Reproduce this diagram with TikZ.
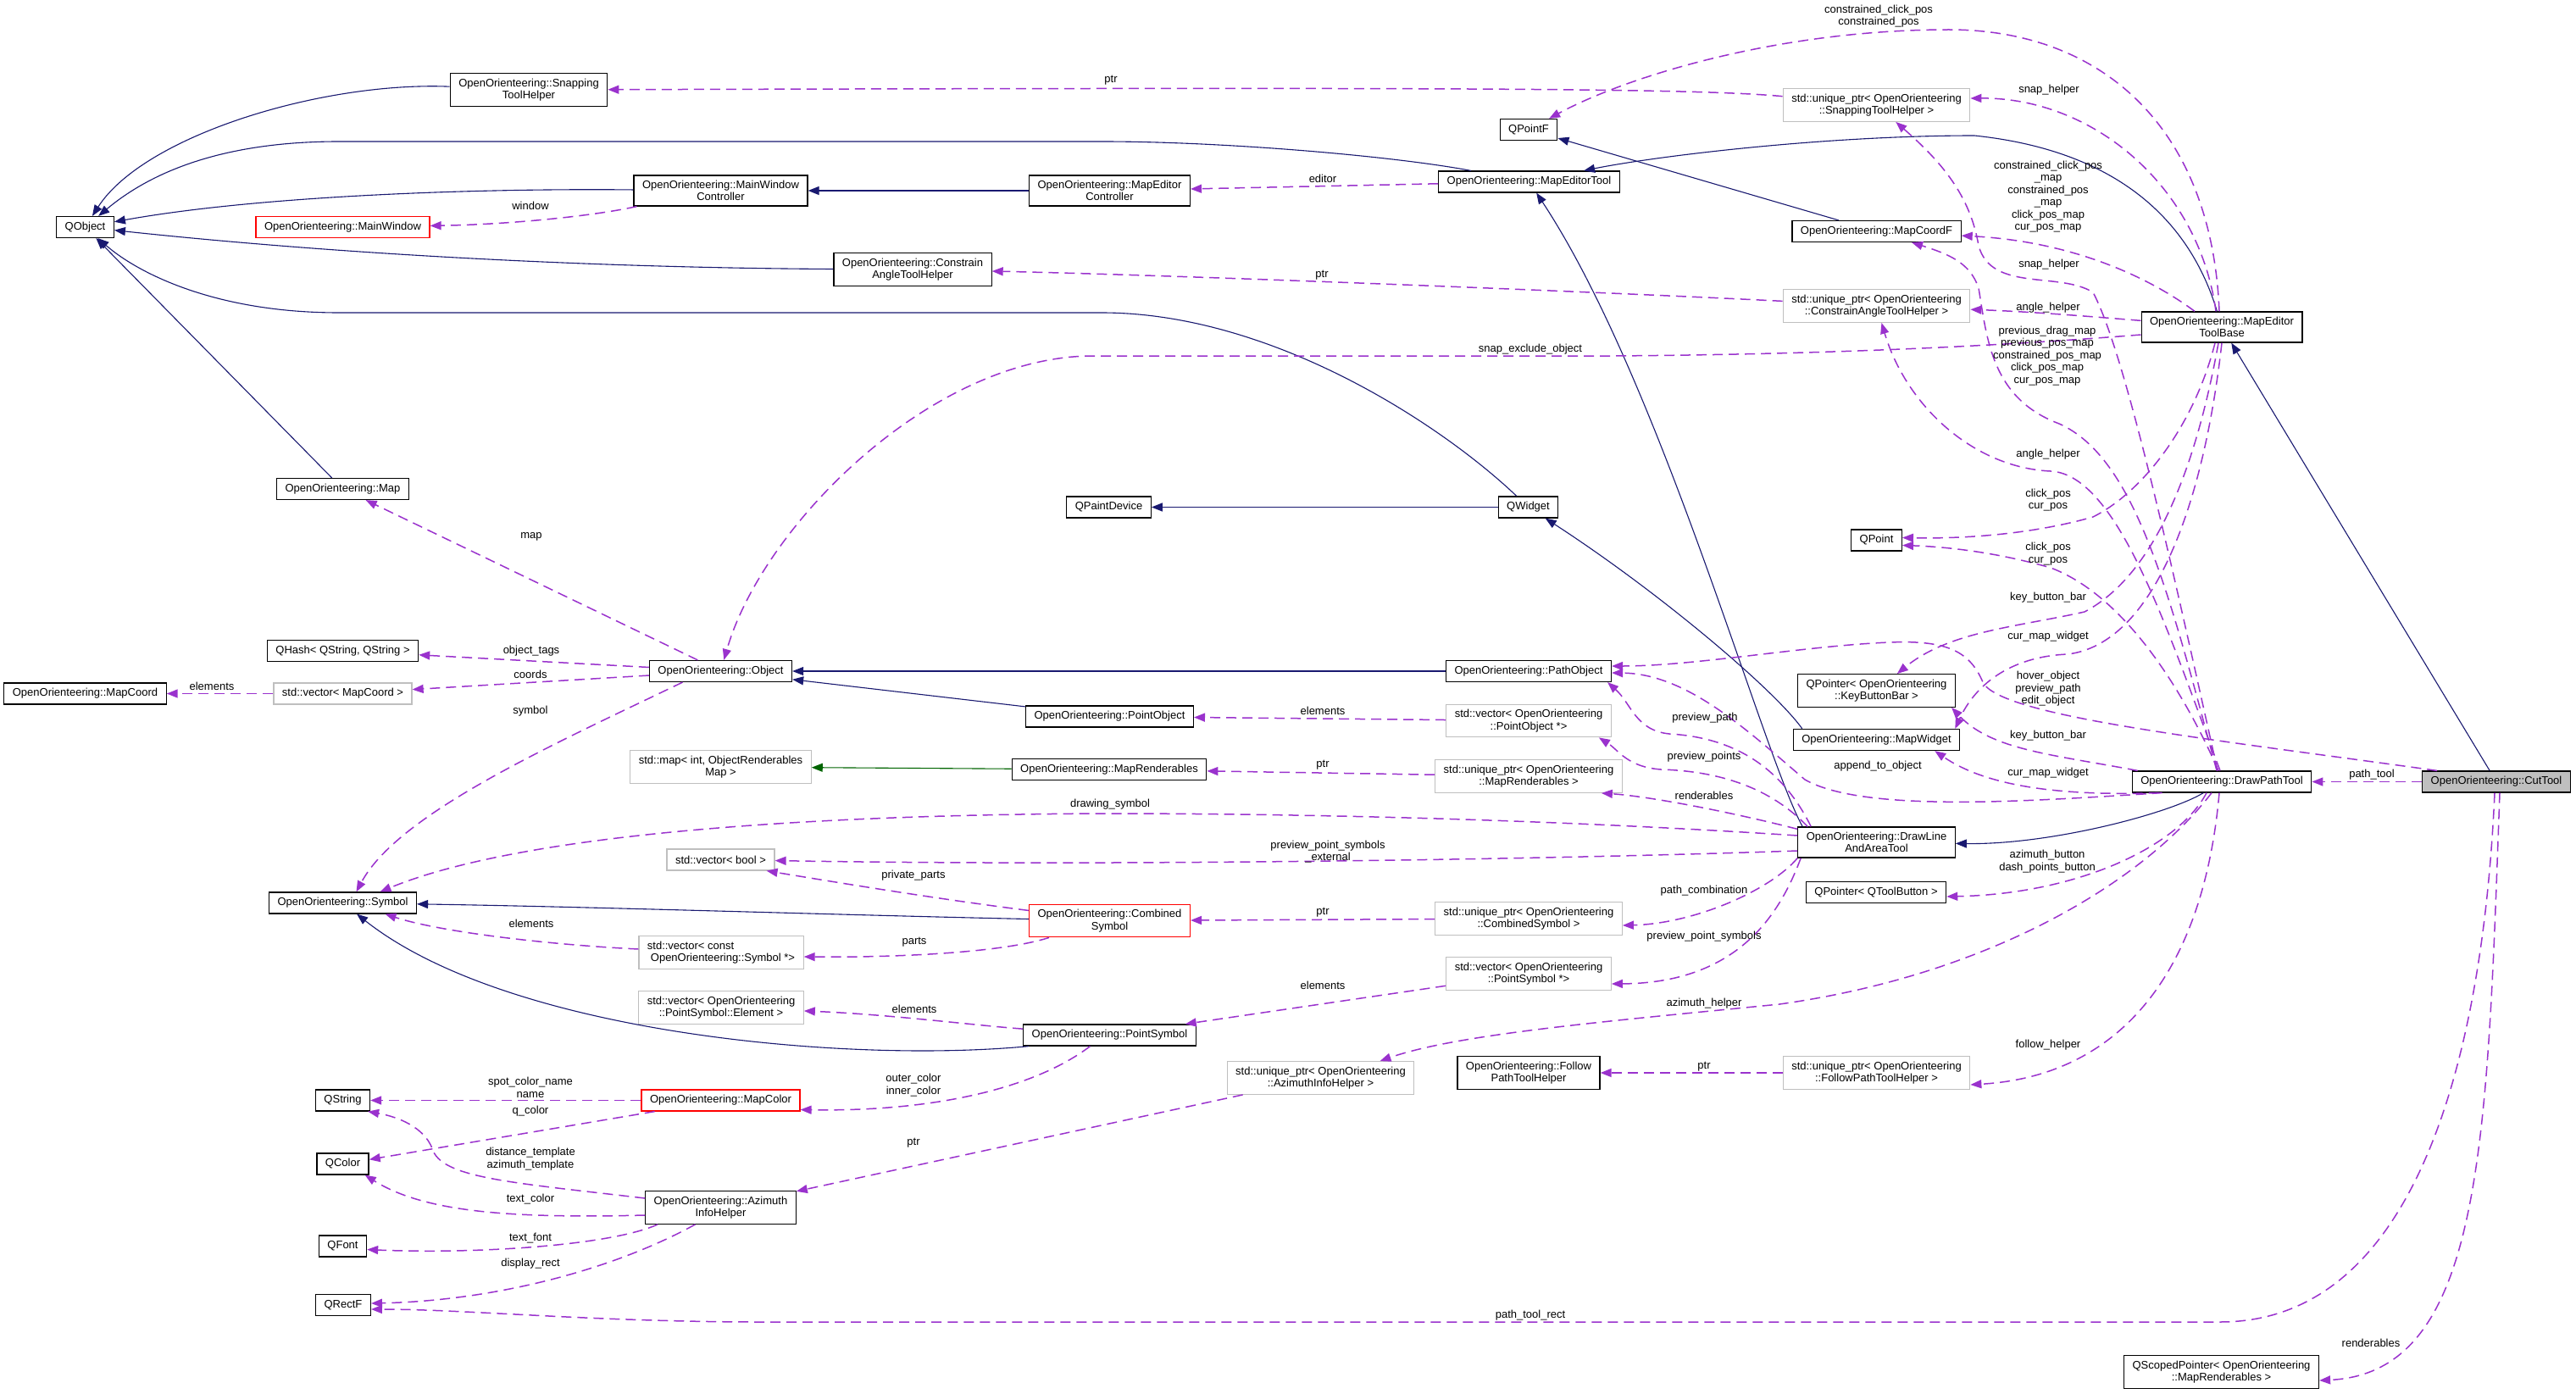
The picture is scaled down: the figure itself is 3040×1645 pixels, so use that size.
\documentclass[tikz,border=0pt]{standalone}
\usepackage{fontspec}
\setmainfont{Liberation Sans}
\usepackage{tikz}
\usetikzlibrary{arrows.meta}
\usepackage{xcolor}
\definecolor{dxnavy}{HTML}{191970}
\definecolor{dxgreen}{HTML}{006400}
\definecolor{dxorchid}{HTML}{9A32CD}
\definecolor{dxgray}{HTML}{BFBFBF}
\definecolor{dxred}{HTML}{FF0000}

\begin{document}
\begin{tikzpicture}[x=1pt, y=-1pt,
    every node/.style={font=\fontsize{13}{14.5}\selectfont},
    cls/.style={draw=black, line width=1.2pt, fill=white, inner xsep=10pt, inner ysep=6pt, minimum height=25pt, align=center},
    ext/.style={cls, draw=dxgray},
    undoc/.style={cls, draw=dxred},
    focus/.style={cls, fill=dxgray},
    lbl/.style={inner sep=0pt, align=center},
    inherit/.style={draw=dxnavy, line width=1.1pt, -{Triangle[length=13pt,width=10pt]}},
    privinh/.style={inherit, draw=dxgreen},
    member/.style={draw=dxorchid, line width=1.5pt, dash pattern=on 12pt off 7pt, -{Triangle[length=13pt,width=10pt]}}]
        \useasboundingbox (0,0) rectangle (3040,1645);
        \node[cls] (qobject) at (100.5,268) {QObject};
        \node[cls] (snaphelper) at (624,106) {OpenOrienteering::Snapping\\ToolHelper};
        \node[undoc] (mainwin) at (404.5,268) {OpenOrienteering::MainWindow};
        \node[cls] (mwctrl) at (850.5,225) {OpenOrienteering::MainWindow\\Controller};
        \node[cls] (mectrl) at (1309.5,225) {OpenOrienteering::MapEditor\\Controller};
        \node[cls] (cathelper) at (1077,318) {OpenOrienteering::Constrain\\AngleToolHelper};
        \node[cls] (qpointf) at (1804,153) {QPointF};
        \node[cls] (metool) at (1804.5,214.5) {OpenOrienteering::MapEditorTool};
        \node[ext] (usnap) at (2214.5,124) {std::unique\_ptr< OpenOrienteering\\::SnappingToolHelper >};
        \node[cls] (mapcoordf) at (2214.5,273) {OpenOrienteering::MapCoordF};
        \node[ext] (uangle) at (2214.5,361) {std::unique\_ptr< OpenOrienteering\\::ConstrainAngleToolHelper >};
        \node[cls] (metbase) at (2622,386) {OpenOrienteering::MapEditor\\ToolBase};
        \node[cls] (map) at (404.5,577) {OpenOrienteering::Map};
        \node[cls] (qpaintdev) at (1308.5,598.5) {QPaintDevice};
        \node[cls] (qwidget) at (1803.5,598.5) {QWidget};
        \node[cls] (qpoint) at (2214.5,637.5) {QPoint};
        \node[cls] (qhash) at (404.5,768) {QHash< QString, QString >};
        \node[cls] (mapcoord) at (100.5,818.5) {OpenOrienteering::MapCoord};
        \node[ext] (vmapcoord) at (404.5,818.5) {std::vector< MapCoord >};
        \node[cls] (object) at (850.5,792) {OpenOrienteering::Object};
        \node[cls] (pathobj) at (1804,792) {OpenOrienteering::PathObject};
        \node[cls] (pointobj) at (1309.5,845.5) {OpenOrienteering::PointObject};
        \node[ext] (vpointobj) at (1804,850.5) {std::vector< OpenOrienteering\\::PointObject *>};
        \node[cls] (keybar) at (2214.5,815) {QPointer< OpenOrienteering\\::KeyButtonBar >};
        \node[cls] (mapwidget) at (2214.5,873) {OpenOrienteering::MapWidget};
        \node[ext] (stdmap) at (850.5,905) {std::map< int, ObjectRenderables\\Map >};
        \node[cls] (maprend) at (1309,908) {OpenOrienteering::MapRenderables};
        \node[ext] (umaprend) at (1804,916) {std::unique\_ptr< OpenOrienteering\\::MapRenderables >};
        \node[cls] (drawpath) at (2622,922.5) {OpenOrienteering::DrawPathTool};
        \node[focus] (cuttool) at (2946,922.5) {OpenOrienteering::CutTool};
        \node[cls] (dlat) at (2214.5,994) {OpenOrienteering::DrawLine\\AndAreaTool};
        \node[ext] (vbool) at (850.5,1014.5) {std::vector< bool >};
        \node[cls] (symbol) at (404.5,1065.5) {OpenOrienteering::Symbol};
        \node[undoc] (combsym) at (1309.5,1086.5) {OpenOrienteering::Combined\\Symbol};
        \node[ext] (ucombsym) at (1804,1084) {std::unique\_ptr< OpenOrienteering\\::CombinedSymbol >};
        \node[cls] (qtoolbtn) at (2214,1053) {QPointer< QToolButton >};
        \node[ext, align=left] (vconstsym) at (851,1124) {std::vector< const\\\hspace*{4pt}OpenOrienteering::Symbol *>};
        \node[ext] (vpsymel) at (851,1189) {std::vector< OpenOrienteering\\::PointSymbol::Element >};
        \node[ext] (vpointsym) at (1804,1149) {std::vector< OpenOrienteering\\::PointSymbol *>};
        \node[cls] (pointsym) at (1309.5,1221.5) {OpenOrienteering::PointSymbol};
        \node[ext] (uazimuth) at (1558.5,1272) {std::unique\_ptr< OpenOrienteering\\::AzimuthInfoHelper >};
        \node[cls] (followhelper) at (1804,1266) {OpenOrienteering::Follow\\PathToolHelper};
        \node[ext] (ufollow) at (2214.5,1266) {std::unique\_ptr< OpenOrienteering\\::FollowPathToolHelper >};
        \node[cls] (qstring) at (404.5,1298.5) {QString};
        \node[undoc] (mapcolor) at (850.5,1298.5) {OpenOrienteering::MapColor};
        \node[cls] (qcolor) at (404.5,1373.5) {QColor};
        \node[cls] (azihelper) at (850.5,1425) {OpenOrienteering::Azimuth\\InfoHelper};
        \node[cls] (qfont) at (404.5,1470.5) {QFont};
        \node[cls] (qrectf) at (405,1540) {QRectF};
        \node[cls] (qscoped) at (2621.5,1619) {QScopedPointer< OpenOrienteering\\::MapRenderables >};

        \draw[inherit] (snaphelper) .. controls (380,96) and (170,160) .. (qobject);
        \draw[inherit] (metool) .. controls (1650,185) and (1450,167) .. (1300,167) -- (400,167) .. controls (250,167) and (170,210) .. (qobject);
        \draw[inherit] (mwctrl) .. controls (550,222) and (300,232) .. (qobject);
        \draw[inherit] (cathelper) .. controls (700,316) and (400,300) .. (qobject);
        \draw[inherit] (qwidget) .. controls (1700,500) and (1500,369) .. (1300,369) -- (400,369) .. controls (250,369) and (160,320) .. (qobject);
        \draw[inherit] (map) -- (qobject);
        \draw[inherit] (mectrl) -- (mwctrl);
        \draw[inherit] (mapcoordf) -- (qpointf);
        \draw[inherit] (metbase) .. controls (2590,280) and (2520,180) .. (2330,160) .. controls (2150,160) and (1950,185) .. (metool);
        \draw[inherit] (cuttool) -- (metbase);
        \draw[inherit] (qwidget) -- (qpaintdev);
        \draw[inherit] ([xshift=6pt]dlat.north west) .. controls (2080,890) and (1960,450) .. (metool);
        \draw[inherit] ([xshift=11pt]mapwidget.north west) .. controls (2095,815) and (1960,700) .. (qwidget);
        \draw[inherit] (pathobj) -- (object);
        \draw[inherit] (pointobj) -- (object);
        \draw[privinh] (maprend) -- (stdmap);
        \draw[inherit] (combsym) .. controls (1000,1080) and (700,1070) .. (symbol);
        \draw[inherit] ([xshift=7pt]pointsym.south west) .. controls (1000,1255) and (600,1220) .. (symbol);
        \draw[inherit] (drawpath) .. controls (2560,960) and (2420,997) .. (dlat);

        \draw[member] (usnap) .. controls (2000,104) and (1700,103) .. (snaphelper);
        \draw[member] ([xshift=-3pt]metbase.north) .. controls (2610,150) and (2480,35) .. (2300,35) .. controls (2100,35) and (1920,90) .. (qpointf);
        \draw[member] ([xshift=-7pt]metbase.north) .. controls (2595,220) and (2470,115) .. ([yshift=8pt]usnap.east);
        \draw[member] ([xshift=-32pt]metbase.north) .. controls (2540,330) and (2450,285) .. (mapcoordf);
        \draw[member] (metbase) .. controls (2460,373) and (2400,368) .. (uangle);
        \draw[member] (uangle) .. controls (1900,345) and (1400,325) .. (cathelper);
        \draw[member] (metool) -- (mectrl);
        \draw[member] ([xshift=4pt]mwctrl.south west) .. controls (700,255) and (600,265) .. (mainwin);
        \draw[member] ([yshift=-9pt]metbase.west) .. controls (2400,405) and (2200,418) .. (1900,420) -- (1290,420) .. controls (1100,420) and (900,620) .. (object);
        \draw[member] ([xshift=-5pt]drawpath.north) .. controls (2570,700) and (2510,420) .. (2470,345) .. controls (2430,320) and (2350,345) .. (2335,290) .. controls (2325,230) and (2290,190) .. (usnap);
        \draw[member] ([xshift=-2pt]drawpath.north) .. controls (2560,750) and (2500,560) .. (2420,556) .. controls (2330,552) and (2250,480) .. (uangle);
        \draw[member] ([xshift=-6pt]drawpath.north) .. controls (2560,700) and (2520,540) .. (2430,500) .. controls (2350,470) and (2345,400) .. (2335,340) .. controls (2325,310) and (2300,300) .. (mapcoordf);
        \draw[member] ([xshift=-8pt]metbase.south) .. controls (2590,500) and (2530,580) .. (2470,610) .. controls (2400,630) and (2320,636) .. ([yshift=3pt]qpoint.east);
        \draw[member] ([xshift=-4pt]drawpath.north) .. controls (2570,800) and (2500,700) .. (2420,670) .. controls (2350,650) and (2290,645) .. ([yshift=-6pt]qpoint.east);
        \draw[member] ([xshift=-4pt]metbase.south) .. controls (2590,560) and (2540,680) .. (2460,722) .. controls (2380,740) and (2300,745) .. (keybar);
        \draw[member] (metbase.south) .. controls (2600,600) and (2540,760) .. (2440,772) .. controls (2370,775) and (2330,810) .. ([xshift=-6pt]mapwidget.north east);
        \draw[member] ([xshift=18pt]cuttool.north west) .. controls (2600,871) and (2360,845) .. (2340,805) .. controls (2325,770) and (2300,755) .. (2230,758) .. controls (2130,762) and (2000,786) .. ([yshift=6pt]pathobj.east);
        \draw[member] ([xshift=7pt]drawpath.north west) .. controls (2420,890) and (2350,885) .. ([xshift=-5pt]keybar.south east);
        \draw[member] ([xshift=32pt]drawpath.south west) .. controls (2420,940) and (2340,925) .. ([xshift=-30pt]mapwidget.south east);
        \draw[member] ([xshift=36pt]drawpath.south west) .. controls (2400,945) and (2200,960) .. (2130,920) .. controls (2060,860) and (1990,795) .. ([yshift=-2pt]pathobj.east);
        \draw[member] ([xshift=16pt]dlat.north west) .. controls (2100,900) and (2040,870) .. (1970,866) .. controls (1930,862) and (1925,830) .. ([xshift=-5pt]pathobj.south east);
        \draw[member] ([xshift=12pt]dlat.north west) .. controls (2090,930) and (2030,910) .. (1960,908) .. controls (1920,905) and (1910,885) .. ([xshift=-15pt]vpointobj.south east);
        \draw[member] ([yshift=-3pt]dlat.north west) .. controls (2050,960) and (1950,940) .. ([xshift=-25pt]umaprend.south east);
        \draw[member] ([yshift=8pt]dlat.west) .. controls (1800,965) and (1500,960) .. (1300,960) .. controls (900,962) and (600,990) .. ([xshift=44pt]symbol.north);
        \draw[member] ([yshift=-10pt]dlat.west) .. controls (1800,1015) and (1300,1022) .. (vbool);
        \draw[member] (dlat.south west) .. controls (2090,1050) and (2000,1090) .. ([yshift=-8pt]ucombsym.east);
        \draw[member] ([xshift=4pt]dlat.south west) .. controls (2100,1080) and (2050,1160) .. ([yshift=-12pt]vpointsym.east);
        \draw[member] (vpointobj) -- (pointobj);
        \draw[member] (umaprend) -- (maprend);
        \draw[member] (ucombsym) -- (combsym);
        \draw[member] (vpointsym) -- (pointsym);
        \draw[member] (combsym) .. controls (1100,1060) and (980,1040) .. ([xshift=-10pt]vbool.south east);
        \draw[member] ([xshift=24pt]combsym.south west) .. controls (1180,1125) and (1050,1130) .. ([yshift=-5pt]vconstsym.east);
        \draw[member] ([yshift=4pt]vconstsym.west) .. controls (650,1115) and (520,1100) .. ([xshift=50pt]symbol.south);
        \draw[member] (pointsym) .. controls (1150,1210) and (1050,1197) .. (vpsymel);
        \draw[member] ([xshift=-23pt]pointsym.south) .. controls (1220,1285) and (1100,1312) .. ([yshift=-11pt]mapcolor.east);
        \draw[member] (uazimuth) -- (azihelper);
        \draw[member] ([xshift=-12pt]drawpath.south) .. controls (2530,1040) and (2350,1150) .. (2100,1185) .. controls (1900,1205) and (1720,1220) .. ([xshift=70pt]uazimuth.north);
        \draw[member] (ufollow) -- (followhelper);
        \draw[member] ([xshift=-3pt]drawpath.south) .. controls (2600,1150) and (2500,1270) .. ([yshift=-14pt]ufollow.east);
        \draw[member] ([xshift=-18pt]drawpath.south) .. controls (2570,1000) and (2450,1055) .. ([yshift=-5pt]qtoolbtn.east);
        \draw[member] (mapcolor) -- (qstring);
        \draw[member] (mapcolor) -- (qcolor);
        \draw[member] ([yshift=11pt]azihelper.west) .. controls (600,1395) and (520,1390) .. (510,1355) .. controls (500,1330) and (470,1318) .. ([xshift=-3pt]qstring.south east);
        \draw[member] ([yshift=-9pt]azihelper.west) .. controls (600,1438) and (500,1430) .. ([xshift=-5pt]qcolor.south east);
        \draw[member] ([xshift=15pt]azihelper.south west) .. controls (720,1470) and (560,1480) .. ([yshift=-4pt]qfont.east);
        \draw[member] ([xshift=-30pt]azihelper.south) .. controls (720,1500) and (580,1535) .. ([yshift=2pt]qrectf.east);
        \draw[member] ([xshift=-2pt]cuttool.south) .. controls (2930,1250) and (2850,1560) .. (2620,1560) -- (900,1560) .. controls (700,1560) and (550,1545) .. ([yshift=-5pt]qrectf.east);
        \draw[member] ([xshift=4pt]cuttool.south) .. controls (2935,1350) and (2930,1620) .. ([yshift=-10pt]qscoped.east);
        \draw[member] (cuttool) -- (drawpath);
        \draw[member] (object) -- (vmapcoord);
        \draw[member] (object) -- (qhash);
        \draw[member] (object) -- (map);
        \draw[member] ([xshift=-45pt]object.south) .. controls (650,880) and (470,960) .. ([xshift=16pt]symbol.north);
        \draw[member] (vmapcoord) -- (mapcoord);

        \node[lbl] (lsnapptr) at (1311,95) {ptr};
        \node[lbl] (lcpos) at (2217,19) {constrained\_click\_pos\\constrained\_pos};
        \node[lbl] (lsnapa) at (2418,106) {snap\_helper};
        \node[lbl] (lposmap) at (2417,232) {constrained\_click\_pos\\\_map\\constrained\_pos\\\_map\\click\_pos\_map\\cur\_pos\_map};
        \node[lbl] (leditor) at (1561,211) {editor};
        \node[lbl] (lwindow) at (626,243) {window};
        \node[lbl] (langptr) at (1560,325) {ptr};
        \node[lbl] (lsnapb) at (2418,312) {snap\_helper};
        \node[lbl] (langa) at (2417,363) {angle\_helper};
        \node[lbl] (lexcl) at (1806,412) {snap\_exclude\_object};
        \node[lbl] (lprevmap) at (2416,420) {previous\_drag\_map\\previous\_pos\_map\\constrained\_pos\_map\\click\_pos\_map\\cur\_pos\_map};
        \node[lbl] (lmap) at (627,633) {map};
        \node[lbl] (langb) at (2417,536) {angle\_helper};
        \node[lbl] (lclicka) at (2417,590) {click\_pos\\cur\_pos};
        \node[lbl] (lclickb) at (2417,653.5) {click\_pos\\cur\_pos};
        \node[lbl] (lkeya) at (2417,705) {key\_button\_bar};
        \node[lbl] (lwidgeta) at (2417,751) {cur\_map\_widget};
        \node[lbl] (lhover) at (2417,813) {hover\_object\\preview\_path\\edit\_object};
        \node[lbl] (lkeyb) at (2417,868) {key\_button\_bar};
        \node[lbl] (lwidgetb) at (2417,912.5) {cur\_map\_widget};
        \node[lbl] (lpathtool) at (2799,914) {path\_tool};
        \node[lbl] (ltags) at (627,768) {object\_tags};
        \node[lbl] (lcoords) at (626,796) {coords};
        \node[lbl] (lsymbol) at (626,839) {symbol};
        \node[lbl] (lcoordel) at (250,810) {elements};
        \node[lbl] (lobjel) at (1561,839) {elements};
        \node[lbl] (lprevpath) at (2012,847) {preview\_path};
        \node[lbl] (lprevpts) at (2011,893) {preview\_points};
        \node[lbl] (lappend) at (2216,904) {append\_to\_object};
        \node[lbl] (lrendptr) at (1561,903) {ptr};
        \node[lbl] (lrend) at (2011,939) {renderables};
        \node[lbl] (ldrawsym) at (1310,949) {drawing\_symbol};
        \node[lbl] (lext) at (1567,1005) {preview\_point\_symbols\\\_external};
        \node[lbl] (lpriv) at (1078,1033) {private\_parts};
        \node[lbl] (lcomb) at (2011,1051) {path\_combination};
        \node[lbl] (lcombptr) at (1561,1077) {ptr};
        \node[lbl] (lbuttons) at (2416,1016.5) {azimuth\_button\\dash\_points\_button};
        \node[lbl] (lparts) at (1079,1112) {parts};
        \node[lbl] (lpsyms) at (2011,1105) {preview\_point\_symbols};
        \node[lbl] (lsymel) at (627,1090) {elements};
        \node[lbl] (lpsel) at (1079,1191) {elements};
        \node[lbl] (lpsymel) at (1561,1163) {elements};
        \node[lbl] (lazi) at (2011,1184) {azimuth\_helper};
        \node[lbl] (lcolors) at (1078,1280.5) {outer\_color\\inner\_color};
        \node[lbl] (lfollow) at (2417,1233) {follow\_helper};
        \node[lbl] (lfollowptr) at (2011,1259) {ptr};
        \node[lbl] (laziptr) at (1078,1349) {ptr};
        \node[lbl] (lspot) at (626,1283.5) {spot\_color\_name\\name};
        \node[lbl] (lqcolor) at (626,1311) {q\_color};
        \node[lbl] (ltempl) at (626,1367.5) {distance\_template\\azimuth\_template};
        \node[lbl] (ltextcol) at (626,1415) {text\_color};
        \node[lbl] (ltextfont) at (626,1461) {text\_font};
        \node[lbl] (ldisp) at (626,1491) {display\_rect};
        \node[lbl] (lrect) at (1806,1552) {path\_tool\_rect};
        \node[lbl] (lrendb) at (2798,1585) {renderables};
      \end{tikzpicture}
\end{document}
